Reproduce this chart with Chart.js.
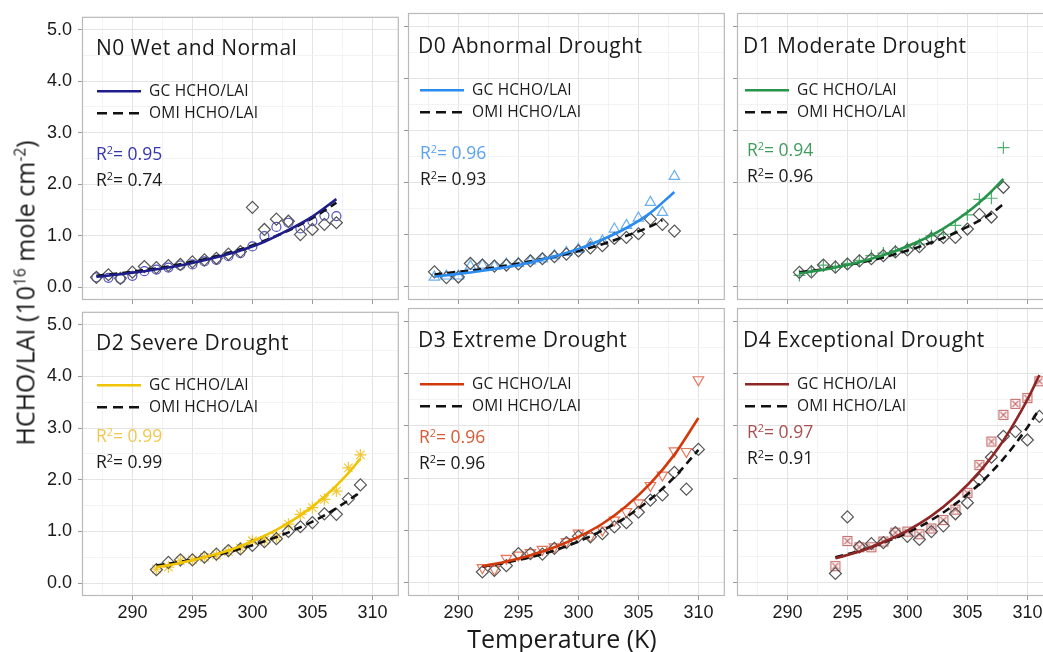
<!DOCTYPE html>
<html>
<head>
<meta charset="utf-8">
<script src="https://cdn.jsdelivr.net/npm/chart.js@4.4.1/dist/chart.umd.min.js"></script>
<style>
  body { margin: 0; width: 1043px; height: 652px; overflow: hidden; background: #fff; position: relative; font-family: 'Open Sans', sans-serif; }
  canvas { position: absolute; }
  .t { position: absolute; white-space: nowrap; line-height: 1; transform: translateY(-50%); color: #1a1a1a; }
  .ttl { font-size: 21px; letter-spacing: 0.45px; }
  .leg { font-size: 15.5px; letter-spacing: 0.2px; display: flex; align-items: center; }
  .leg svg { margin-right: 8px; }
  .r2 { font-size: 17.5px; }
  sup { font-size: 0.62em; vertical-align: 0.55em; line-height: 0; }
  .axt { position: absolute; white-space: nowrap; font-size: 25px; color: #1a1a1a; line-height: 1; }
</style>
</head>
<body>
<script>
// tick positions
const tempTicks = [287.5, 290, 292.5, 295, 297.5, 300, 302.5, 305, 307.5, 310];
const ratioTicks = [0, 0.5, 1, 1.5, 2, 2.5, 3, 3.5, 4, 4.5, 5];

const panelNames = ['N0 Wet and Normal', 'D0 Abnormal Drought', 'D1 Moderate Drought',
                    'D2 Severe Drought', 'D3 Extreme Drought', 'D4 Exceptional Drought'];
const r2Gc = ['0.95', '0.96', '0.94', '0.99', '0.96', '0.97'];
const r2Omi = ['0.74', '0.93', '0.96', '0.99', '0.96', '0.91'];

// N0
const n0Temp = [287, 288, 289, 290, 291, 292, 293, 294, 295, 296, 297, 298, 299, 300, 301, 302, 303, 304, 305, 306, 307];
const n0Gc = [0.19, 0.18, 0.16, 0.22, 0.31, 0.34, 0.38, 0.42, 0.44, 0.50, 0.53, 0.60, 0.66, 0.79, 0.99, 1.17, 1.25, 1.14, 1.28, 1.39, 1.38];
const n0Omi = [0.19, 0.24, 0.17, 0.29, 0.40, 0.38, 0.42, 0.44, 0.49, 0.53, 0.56, 0.64, 0.69, 1.55, 1.12, 1.32, 1.28, 1.02, 1.12, 1.22, 1.25];
const n0FitTemp = [287, 289, 291, 293, 295, 297, 299, 301, 303, 305, 307];
const n0GcFit = [0.20, 0.25, 0.31, 0.38, 0.47, 0.58, 0.71, 0.88, 1.11, 1.37, 1.71];
const n0OmiFit = [0.22, 0.27, 0.33, 0.40, 0.49, 0.60, 0.73, 0.90, 1.10, 1.34, 1.64];

// D0
const d0Temp = [288, 289, 290, 291, 292, 293, 294, 295, 296, 297, 298, 299, 300, 301, 302, 303, 304, 305, 306, 307, 308];
const d0Gc = [0.19, 0.21, 0.21, 0.40, 0.42, 0.40, 0.44, 0.45, 0.50, 0.54, 0.60, 0.66, 0.72, 0.82, 0.88, 1.11, 1.18, 1.32, 1.62, 1.43, 2.12];
const d0Omi = [0.29, 0.18, 0.19, 0.45, 0.42, 0.40, 0.42, 0.44, 0.50, 0.54, 0.58, 0.63, 0.69, 0.75, 0.79, 0.93, 0.95, 1.02, 1.30, 1.20, 1.07];
const d0FitTemp = [288, 290, 292, 294, 296, 298, 300, 302, 304, 306, 308];
const d0GcFit = [0.20, 0.25, 0.31, 0.38, 0.47, 0.59, 0.73, 0.91, 1.13, 1.42, 1.82];
const d0OmiFitTemp = [288, 290, 292, 294, 296, 298, 300, 302, 304, 306, 307];
const d0OmiFit = [0.24, 0.29, 0.34, 0.41, 0.49, 0.58, 0.69, 0.82, 0.98, 1.16, 1.28];

// D1
const d1Temp = [291, 292, 293, 294, 295, 296, 297, 298, 299, 300, 301, 302, 303, 304, 305, 306, 307, 308];
const d1Gc = [0.22, 0.31, 0.42, 0.40, 0.45, 0.51, 0.60, 0.65, 0.69, 0.75, 0.82, 0.98, 1.01, 1.18, 1.38, 1.68, 1.70, 2.67];
const d1Omi = [0.28, 0.29, 0.42, 0.38, 0.44, 0.50, 0.54, 0.60, 0.67, 0.71, 0.77, 0.93, 0.95, 0.95, 1.11, 1.39, 1.34, 1.91];
const d1FitTemp = [291, 293, 295, 297, 299, 301, 303, 305, 307, 308];
const d1GcFit = [0.26, 0.33, 0.42, 0.54, 0.69, 0.88, 1.12, 1.43, 1.83, 2.07];
const d1OmiFit = [0.28, 0.34, 0.42, 0.51, 0.63, 0.77, 0.94, 1.15, 1.41, 1.59];

// D2
const d2Temp = [292, 293, 294, 295, 296, 297, 298, 299, 300, 301, 302, 303, 304, 305, 306, 307, 308, 309];
const d2Gc = [0.27, 0.31, 0.43, 0.45, 0.50, 0.54, 0.61, 0.68, 0.82, 0.83, 0.89, 1.14, 1.33, 1.46, 1.62, 1.78, 2.23, 2.48];
const d2Omi = [0.26, 0.40, 0.45, 0.45, 0.50, 0.56, 0.63, 0.66, 0.73, 0.80, 0.86, 1.00, 1.09, 1.17, 1.34, 1.33, 1.63, 1.90];
const d2FitTemp = [292, 294, 296, 298, 300, 302, 304, 306, 308, 309];
const d2GcFit = [0.31, 0.39, 0.50, 0.63, 0.81, 1.03, 1.31, 1.67, 2.13, 2.41];
const d2OmiFit = [0.34, 0.41, 0.50, 0.60, 0.73, 0.89, 1.08, 1.31, 1.60, 1.76];

// D3
const d3Temp = [292, 293, 294, 295, 296, 297, 298, 299, 300, 301, 302, 303, 304, 305, 306, 307, 308, 309, 310];
const d3Gc = [0.29, 0.26, 0.47, 0.53, 0.58, 0.64, 0.69, 0.79, 0.95, 0.89, 1.01, 1.20, 1.36, 1.53, 1.86, 2.06, 2.52, 2.51, 3.88];
const d3Omi = [0.21, 0.24, 0.33, 0.56, 0.56, 0.55, 0.66, 0.77, 0.89, 0.88, 0.94, 1.07, 1.15, 1.35, 1.58, 1.68, 2.11, 1.79, 2.55];
const d3FitTemp = [292, 294, 296, 298, 300, 302, 304, 306, 308, 310];
const d3GcFit = [0.32, 0.41, 0.53, 0.68, 0.88, 1.13, 1.47, 1.90, 2.45, 3.15];
const d3OmiFit = [0.31, 0.39, 0.49, 0.62, 0.79, 1.00, 1.26, 1.60, 2.02, 2.54];

// D4
const d4Temp = [294, 295, 296, 297, 298, 299, 300, 301, 302, 303, 304, 305, 306, 307, 308, 309, 310, 311];
const d4Gc = [0.32, 0.80, 0.68, 0.68, 0.79, 0.96, 0.98, 0.93, 1.04, 1.20, 1.40, 1.72, 2.25, 2.70, 3.21, 3.42, 3.53, 3.85];
const d4Omi = [0.18, 1.26, 0.69, 0.75, 0.77, 0.96, 0.89, 0.83, 0.98, 1.09, 1.32, 1.53, 1.97, 2.40, 2.80, 2.89, 2.73, 3.18];
const d4FitTemp = [294, 296, 298, 300, 302, 304, 306, 308, 310, 311];
const d4GcFit = [0.47, 0.60, 0.78, 1.00, 1.28, 1.65, 2.12, 2.72, 3.50, 3.97];
const d4OmiFit = [0.49, 0.61, 0.77, 0.96, 1.20, 1.51, 1.89, 2.37, 2.97, 3.32];

function boxX(color) {
  const c = document.createElement('canvas');
  c.width = 12; c.height = 12;
  const g = c.getContext('2d');
  g.strokeStyle = color; g.lineWidth = 1.1;
  g.strokeRect(1.5, 1.5, 9, 9);
  g.beginPath();
  g.moveTo(3, 3); g.lineTo(9, 9); g.moveTo(9, 3); g.lineTo(3, 9);
  g.stroke();
  return c;
}

const zip = (xs, ys) => xs.map((x, i) => ({ x: x, y: ys[i] }));

const panels = [
  { left: 82, top: 13, h: 287, temp: n0Temp, gc: n0Gc, omi: n0Omi, fitT: n0FitTemp, gcFit: n0GcFit, omiFitT: n0FitTemp, omiFit: n0OmiFit,
    line: '#1e1e8a', pt: '#5050c4', txt: '#3535b0', shape: 'circle', r: 4.5, rot: 0,
    yLab: true, xLab: false, tx: 96, ty: 47, lx: 97, ly: 91, rx: 96, ry: 154 },
  { left: 408, top: 13, h: 287, temp: d0Temp, gc: d0Gc, omi: d0Omi, fitT: d0FitTemp, gcFit: d0GcFit, omiFitT: d0OmiFitTemp, omiFit: d0OmiFit,
    line: '#2b8cf0', pt: '#6aaef2', txt: '#5aa3f0', shape: 'triangle', r: 6, rot: 0,
    yLab: false, xLab: false, tx: 418, ty: 45, lx: 420, ly: 90, rx: 420, ry: 153 },
  { left: 737, top: 13, h: 287, temp: d1Temp, gc: d1Gc, omi: d1Omi, fitT: d1FitTemp, gcFit: d1GcFit, omiFitT: d1FitTemp, omiFit: d1OmiFit,
    line: '#26944a', pt: '#4fb070', txt: '#3e9c5a', shape: 'cross', r: 6, rot: 0,
    yLab: false, xLab: false, tx: 743, ty: 45, lx: 745, ly: 90, rx: 747, ry: 150 },
  { left: 82, top: 308, h: 288, temp: d2Temp, gc: d2Gc, omi: d2Omi, fitT: d2FitTemp, gcFit: d2GcFit, omiFitT: d2FitTemp, omiFit: d2OmiFit,
    line: '#f0c400', pt: '#f2c838', txt: '#f0c850', shape: 'star', r: 6, rot: 0,
    yLab: true, xLab: true, tx: 96, ty: 342, lx: 97, ly: 385, rx: 96, ry: 436 },
  { left: 408, top: 308, h: 288, temp: d3Temp, gc: d3Gc, omi: d3Omi, fitT: d3FitTemp, gcFit: d3GcFit, omiFitT: d3FitTemp, omiFit: d3OmiFit,
    line: '#d23a0c', pt: '#e8765a', txt: '#d95a35', shape: 'triangle', r: 6, rot: 180,
    yLab: false, xLab: true, tx: 418, ty: 339, lx: 420, ly: 384, rx: 419, ry: 437 },
  { left: 737, top: 308, h: 288, temp: d4Temp, gc: d4Gc, omi: d4Omi, fitT: d4FitTemp, gcFit: d4GcFit, omiFitT: d4FitTemp, omiFit: d4OmiFit,
    line: '#8e2626', pt: '#c06464', txt: '#a85050', shape: boxX('#c46868'), r: 6, rot: 0,
    yLab: false, xLab: true, tx: 743, ty: 339, lx: 745, ly: 384, rx: 747, ry: 432 }
];

const boxPlugin = {
  id: 'box',
  afterDraw(chart) {
    const a = chart.chartArea, c = chart.ctx;
    c.save();
    c.strokeStyle = '#b9b9b9';
    c.lineWidth = 1.2;
    c.strokeRect(a.left + 0.5, a.top + 0.5, a.width - 1, a.height - 1);
    c.restore();
  }
};

panels.forEach((p, i) => {
  const cv = document.createElement('canvas');
  cv.width = 320 + 82 + 4;
  cv.height = p.h + 13 + 45;
  cv.style.left = (p.left - 82) + 'px';
  cv.style.top = (p.top - 13) + 'px';
  document.body.appendChild(cv);

  new Chart(cv, {
    type: 'scatter',
    data: {
      datasets: [
        { type: 'line', data: zip(p.fitT, p.gcFit), borderColor: p.line, borderWidth: 2.6, pointRadius: 0, cubicInterpolationMode: 'monotone', fill: false },
        { type: 'line', data: zip(p.omiFitT, p.omiFit), borderColor: '#111', borderWidth: 2.6, borderDash: [8, 5], pointRadius: 0, cubicInterpolationMode: 'monotone', fill: false },
        { data: zip(p.temp, p.omi), pointStyle: 'rectRot', pointRadius: 6, borderColor: '#555', borderWidth: 1.2, backgroundColor: 'rgba(0,0,0,0)' },
        { data: zip(p.temp, p.gc), pointStyle: p.shape, pointRadius: p.r, rotation: p.rot, borderColor: p.pt, borderWidth: 1.2, backgroundColor: 'rgba(0,0,0,0)' }
      ]
    },
    options: {
      responsive: false,
      animation: false,
      events: [],
      layout: { padding: { top: 13, right: 4, left: 0, bottom: 0 } },
      plugins: { legend: { display: false }, tooltip: { enabled: false } },
      scales: {
        x: {
          type: 'linear', min: 285.8, max: 312.2,
          afterBuildTicks: s => { s.ticks = tempTicks.map(v => ({ value: v })); },
          afterFit: s => { s.height = 45; },
          border: { display: false },
          grid: {
            color: c => c.tick && c.tick.value % 5 === 0 ? '#e4e4e4' : '#f0f0f0',
            lineWidth: c => c.tick && c.tick.value % 5 === 0 ? 1 : 0.8,
            tickColor: c => c.tick && c.tick.value % 5 === 0 ? '#999' : 'rgba(0,0,0,0)',
            tickLength: 4
          },
          ticks: {
            display: p.xLab, autoSkip: false, maxRotation: 0, padding: 2,
            color: '#1a1a1a', font: { family: 'Liberation Sans', size: 18 },
            callback: v => v % 5 === 0 ? String(v) : ''
          }
        },
        y: {
          min: -0.25, max: 5.25,
          afterBuildTicks: s => { s.ticks = ratioTicks.map(v => ({ value: v })); },
          afterFit: s => { s.width = 82; },
          border: { display: false },
          grid: {
            color: c => c.tick && c.tick.value % 1 === 0 ? '#e4e4e4' : '#f0f0f0',
            lineWidth: c => c.tick && c.tick.value % 1 === 0 ? 1 : 0.8,
            tickColor: c => c.tick && c.tick.value % 1 === 0 ? '#999' : 'rgba(0,0,0,0)',
            tickLength: 4
          },
          ticks: {
            display: p.yLab, autoSkip: false, padding: 6,
            color: '#1a1a1a', font: { family: 'Liberation Sans', size: 18 },
            callback: v => v % 1 === 0 ? v.toFixed(1) : ''
          }
        }
      }
    },
    plugins: [boxPlugin]
  });

  // panel annotations
  const add = (cls, x, y, html, color) => {
    const d = document.createElement('div');
    d.className = 't ' + cls;
    d.style.left = x + 'px';
    d.style.top = y + 'px';
    if (color) d.style.color = color;
    d.innerHTML = html;
    document.body.appendChild(d);
  };
  const sample = (color, dash) =>
    '<svg width="44" height="6"><line x1="0" y1="3" x2="44" y2="3" stroke="' + color +
    '" stroke-width="2.6"' + (dash ? ' stroke-dasharray="10 6"' : '') + '/></svg>';

  add('ttl', p.tx, p.ty, panelNames[i]);
  add('leg', p.lx, p.ly, sample(p.line, false) + 'GC HCHO/LAI');
  add('leg', p.lx, p.ly + 22, sample('#111', true) + 'OMI HCHO/LAI');
  add('r2', p.rx, p.ry, 'R<sup>2</sup>= ' + r2Gc[i], p.txt);
  add('r2', p.rx, p.ry + 26, 'R<sup>2</sup>= ' + r2Omi[i]);
});

// shared axis titles
const yt = document.createElement('div');
yt.className = 'axt';
yt.style.left = '25px';
yt.style.top = '293px';
yt.style.transform = 'translate(-50%, -50%) rotate(-90deg)';
yt.innerHTML = 'HCHO/LAI (10<sup>16</sup> mole cm<sup>-2</sup>)';
document.body.appendChild(yt);

const xt = document.createElement('div');
xt.className = 'axt';
xt.style.left = '562px';
xt.style.top = '638px';
xt.style.transform = 'translate(-50%, -50%)';
xt.textContent = 'Temperature (K)';
document.body.appendChild(xt);
</script>
</body>
</html>
